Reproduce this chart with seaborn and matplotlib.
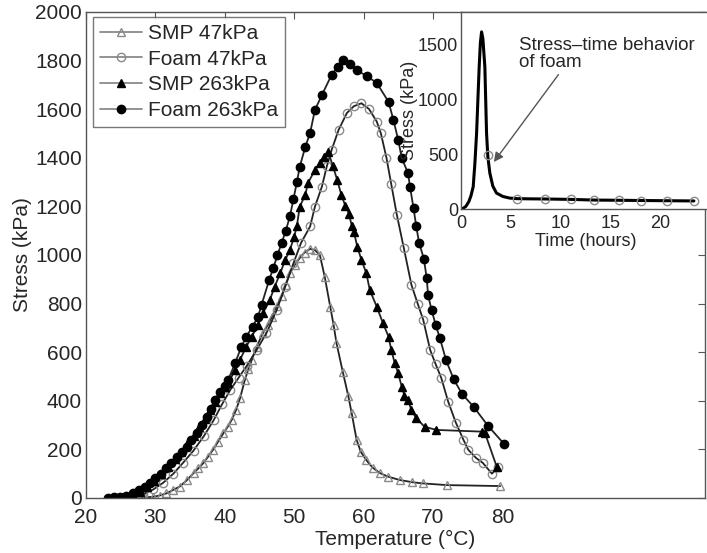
import pandas as pd
import matplotlib
matplotlib.use("Agg")
import matplotlib.pyplot as plt
import seaborn as sns

# main chart: temperature (degC) vs stress (kPa)
smp47_t = [26.0, 27.3, 28.5, 29.7, 30.6, 31.6, 32.5, 33.5, 34.5, 35.5, 36.2, 36.9, 37.6,
           38.3, 39.0, 39.8, 40.4, 41.0, 41.6, 42.2, 42.9, 43.4, 43.9, 44.6, 45.5, 46.2,
           46.8, 47.5, 48.2, 48.8, 49.4, 50.1, 50.8, 51.5, 52.3, 53.0, 53.7, 54.4, 55.2,
           55.7, 56.1, 57.0, 57.8, 58.3, 59.0, 59.6, 60.4, 61.3, 62.4, 63.5, 65.2, 67.0,
           68.5, 72.0, 79.7]
smp47_s = [0, 0, 2, 5, 10, 19, 32, 47, 72, 102, 122, 143, 170,
           198, 230, 266, 292, 321, 360, 410, 486, 530, 568, 623, 678, 712,
           746, 790, 829, 878, 925, 960, 987, 1010, 1025, 1020, 1000, 911, 787,
           710, 637, 520, 420, 348, 239, 190, 156, 125, 102, 88, 74, 65,
           60, 53, 49]

foam47_t = [25.3, 26.8, 28.2, 29.7, 31.1, 32.6, 34.0, 35.5, 37.0, 38.4, 39.6, 40.8, 42.0,
            43.2, 44.6, 46.0, 47.5, 48.7, 49.9, 51.0, 52.3, 53.0, 54.0, 54.7, 55.4, 56.4,
            57.6, 58.6, 59.7, 60.8, 61.9, 62.5, 63.3, 64.0, 64.8, 65.8, 66.9, 67.8, 68.6,
            69.6, 70.4, 71.2, 72.2, 73.3, 74.4, 75.1, 76.2, 77.2, 78.5, 79.4]
foam47_s = [0, 5, 15, 35, 62, 100, 145, 195, 255, 320, 385, 445, 495,
            545, 609, 678, 774, 870, 966, 1050, 1117, 1199, 1281, 1364, 1432, 1514,
            1584, 1612, 1624, 1600, 1549, 1500, 1400, 1290, 1165, 1029, 877, 800, 733,
            609, 550, 494, 396, 310, 239, 198, 165, 144, 100, 128]

smp263_t = [24.9, 25.8, 26.8, 27.8, 28.8, 29.8, 30.8, 31.8, 32.8, 33.7, 34.6, 35.5, 36.3,
            37.1, 37.9, 38.6, 39.3, 40.0, 40.5, 41.5, 42.2, 43.1, 43.9, 44.8, 45.5, 46.5,
            47.2, 48.0, 48.7, 49.4, 50.0, 50.4, 50.8, 51.6, 52.0, 53.0, 53.7, 54.3, 54.9,
            55.6, 56.2, 56.8, 57.4, 57.9, 58.3, 58.6, 59.1, 59.7, 60.4, 60.9, 61.9, 62.8,
            63.6, 64.0, 64.5, 65.0, 65.5, 65.9, 66.4, 66.9, 67.6, 68.8, 70.5, 77.0, 77.5,
            79.2]
smp263_s = [0, 3, 12, 25, 45, 70, 98, 128, 160, 190, 222, 256, 290,
            325, 360, 395, 430, 455, 473, 527, 568, 623, 664, 712, 761, 815,
            870, 925, 979, 1021, 1075, 1120, 1198, 1247, 1296, 1350, 1378, 1405, 1425,
            1364, 1309, 1247, 1200, 1170, 1120, 1096, 1034, 979, 925, 856, 787, 719,
            664, 609, 554, 513, 458, 420, 403, 362, 328, 293, 280, 273, 267,
            128]

foam263_t = [23.2, 24.0, 24.9, 25.8, 26.8, 27.7, 28.5, 29.2, 29.9, 30.8, 31.6, 32.3, 33.1,
             33.8, 34.5, 35.2, 36.0, 36.7, 37.4, 38.0, 38.6, 39.3, 40.0, 40.5, 41.5, 42.4,
             43.1, 44.0, 44.8, 45.3, 46.4, 47.0, 47.6, 48.2, 48.8, 49.4, 49.9, 50.4, 50.8,
             51.6, 52.3, 53.0, 54.0, 55.4, 56.3, 57.1, 58.0, 59.0, 60.5, 61.9, 63.6, 64.3,
             65.0, 65.5, 66.4, 66.7, 67.2, 67.6, 68.0, 68.7, 69.1, 69.3, 69.8, 70.4, 71.0,
             71.9, 73.0, 74.2, 75.9, 77.9, 80.2]
foam263_s = [0, 2, 5, 10, 19, 32, 47, 62, 82, 100, 123, 145, 170,
             190, 211, 238, 267, 300, 335, 368, 403, 437, 460, 486, 555, 623,
             664, 705, 746, 794, 897, 946, 1000, 1049, 1100, 1160, 1230, 1300, 1362,
             1444, 1502, 1597, 1658, 1741, 1775, 1802, 1785, 1761, 1735, 1708, 1630, 1556,
             1473, 1399, 1337, 1280, 1193, 1117, 1051, 983, 905, 835, 774, 712, 658,
             566, 488, 428, 374, 298, 224]

# inset: stress vs time for foam
time_h = [0, 0.2, 0.5, 0.8, 1.0, 1.23, 1.4, 1.57, 1.7, 1.83, 1.95, 2.07, 2.2, 2.4,
          2.57, 2.7, 2.9, 3.2, 3.57, 4.2, 4.9, 5.6, 7.0, 8.4, 11.1, 13.4, 15.9, 18.1,
          20.7, 23.4]
time_s = [0, 5, 25, 70, 120, 204, 420, 694, 1000, 1300, 1520, 1620, 1560, 1300,
          694, 480, 329, 210, 146, 115, 100, 95, 93, 92, 88, 82, 80, 78,
          76, 74]
mark_t = [2.75, 5.6, 8.4, 11.1, 13.4, 15.9, 18.1, 20.7, 23.4]
mark_s = [490, 95, 92, 88, 82, 80, 78, 76, 74]

series = [
    ("SMP 47kPa", smp47_t, smp47_s, "^", "none", "#8a8a8a", 5.5),
    ("Foam 47kPa", foam47_t, foam47_s, "o", "none", "#8a8a8a", 6),
    ("SMP 263kPa", smp263_t, smp263_s, "^", "black", "black", 5.5),
    ("Foam 263kPa", foam263_t, foam263_s, "o", "black", "black", 6),
]

sns.set_style("white")
plt.rcParams["font.family"] = ["Liberation Sans", "DejaVu Sans"]

fig = plt.figure(figsize=(7.07, 5.53), dpi=100)
ax = fig.add_axes([0.1216, 0.0995, 0.8755, 0.879])

for name, xs, ys, mk, mfc, mec, ms in series:
    df = pd.DataFrame({"Temperature": xs, "Stress": ys})
    sns.lineplot(data=df, x="Temperature", y="Stress", ax=ax, sort=False,
                 color="#222222", linewidth=1.3, marker=mk, markersize=ms,
                 markerfacecolor=mfc, markeredgecolor=mec, markeredgewidth=1.0,
                 label=name)

ax.set_xlim(20, 109.2)
ax.set_ylim(0, 2000)
ax.set_xticks([20, 30, 40, 50, 60, 70, 80])
ax.set_yticks(range(0, 2001, 200))
ax.tick_params(direction="in", top=True, right=True, length=5, width=0.8,
               labelsize=15, color="#555555")
ax.tick_params(axis="x", pad=7)
ax.tick_params(axis="y", pad=3)
ax.set_xlabel("Temperature (°C)", fontsize=15, labelpad=2)
ax.set_ylabel("Stress (kPa)", fontsize=15, labelpad=2)
for sp in ax.spines.values():
    sp.set_color("#555555")
    sp.set_linewidth(1.0)

leg = ax.legend(loc="upper left", bbox_to_anchor=(0.011, 0.99), borderaxespad=0,
                fontsize=15, frameon=True, fancybox=False, handlelength=2.0,
                labelspacing=0.32, handletextpad=0.3, borderpad=0.35)
leg.get_frame().set_edgecolor("#555555")
leg.get_frame().set_linewidth(1.0)
for ln in leg.get_lines():
    ln.set_color("#8a8a8a")

# inset
ins = fig.add_axes([0.652, 0.622, 0.352, 0.356])
ins.set_facecolor("white")
sns.lineplot(x=time_h, y=time_s, ax=ins, sort=False, color="black", linewidth=2.2)
sns.lineplot(x=mark_t, y=mark_s, ax=ins, sort=False, linestyle="none", marker="o",
             markersize=6, markerfacecolor="none", markeredgecolor="#8a8a8a",
             markeredgewidth=1.0)
ins.set_xlim(0, 25)
ins.set_ylim(0, 1800)
ins.set_xticks([0, 5, 10, 15, 20])
ins.set_yticks([0, 500, 1000, 1500])
ins.tick_params(direction="in", length=3, width=0.8, labelsize=13,
                color="#555555")
ins.tick_params(axis="x", pad=4)
ins.tick_params(axis="y", pad=2)
ins.set_xlabel("Time (hours)", fontsize=13, labelpad=1)
ins.set_ylabel("Stress (kPa)", fontsize=13, labelpad=0)
for sp in ins.spines.values():
    sp.set_color("#555555")
    sp.set_linewidth(1.0)

ins.annotate("Stress\u2013time behavior\nof foam", xy=(3.3, 430), xytext=(5.8, 1570),
             fontsize=13.5, va="top", ha="left", linespacing=1.0,
             arrowprops=dict(arrowstyle="-|>", color="#555555", lw=1.0,
                             shrinkA=0, shrinkB=0, mutation_scale=14,
                             relpos=(0.24, 0.0)))

fig.savefig("out.png", dpi=100)
